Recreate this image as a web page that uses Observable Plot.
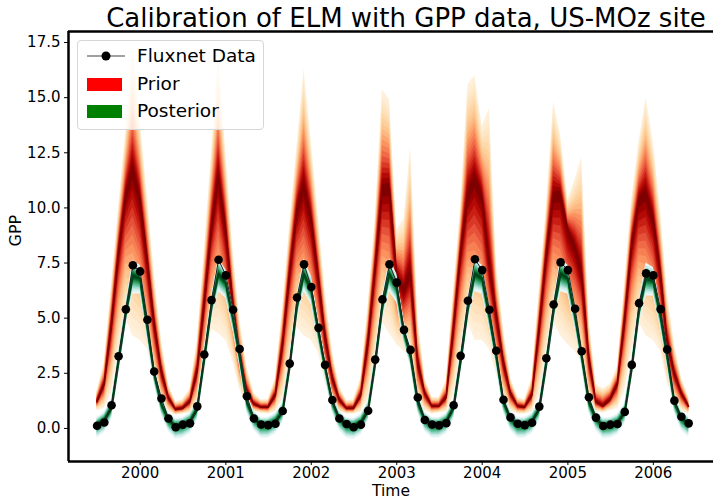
<!DOCTYPE html>
<html>
<head>
<meta charset="utf-8">
<script src="https://cdn.jsdelivr.net/npm/d3@7"></script>
<script src="https://cdn.jsdelivr.net/npm/@observablehq/plot@0.6"></script>
<style>
  html, body { margin: 0; padding: 0; background: #fff; }
  #wrap { position: relative; width: 713px; height: 500px; font-family: "DejaVu Sans", sans-serif; }
  #legend {
    position: absolute; left: 77px; top: 40px; width: 185px; height: 88px;
    border: 1px solid #d6d6d6; border-radius: 4px; background: rgba(255,255,255,0.8);
    font-size: 18.5px; color: #000;
  }
  .item { position: absolute; left: 0; height: 20px; display: flex; align-items: center; }
  .item .label { position: absolute; left: 59px; white-space: nowrap; line-height: 20px; }
  .swatch { position: absolute; left: 9px; width: 35px; height: 13px; }
</style>
</head>
<body>
<div id="wrap"></div>
<script>
// Monthly GPP, July 1999 - June 2006 (one row per Jul..Jun season)
const gpp = [
  0.12, 0.27, 1.05, 3.27, 5.40, 7.40, 7.12, 4.93, 2.58, 1.36, 0.45, 0.05,
  0.17, 0.23, 1.00, 3.35, 5.82, 7.65, 6.94, 5.38, 3.60, 1.46, 0.45, 0.18,
  0.15, 0.21, 0.79, 2.94, 5.94, 7.44, 6.41, 4.56, 2.88, 1.29, 0.45, 0.20,
  0.05, 0.17, 0.80, 3.12, 5.85, 7.44, 6.61, 4.47, 3.56, 1.40, 0.38, 0.18,
  0.14, 0.24, 1.05, 3.29, 5.79, 7.67, 7.18, 5.38, 3.52, 1.30, 0.50, 0.21,
  0.15, 0.26, 0.99, 3.18, 5.62, 7.53, 7.18, 5.43, 3.50, 1.41, 0.49, 0.11,
  0.17, 0.20, 0.75, 2.88, 5.68, 7.03, 6.94, 5.41, 3.58, 1.26, 0.53, 0.23
];

// Prior ensemble: median and outer bounds
const priorMed = [
  1.2, 2.0, 4.7, 7.9, 10.5, 11.7, 10.4, 7.6, 4.8, 2.6, 1.4, 0.85,
  0.9, 1.2, 2.6, 5.6, 9.0, 11.4, 9.0, 5.6, 3.3, 1.7, 1.1, 0.95,
  0.95, 1.5, 3.8, 7.0, 9.8, 11.0, 9.5, 6.8, 4.2, 2.3, 1.3, 0.9,
  0.9, 1.5, 3.9, 7.2, 10.8, 10.9, 7.0, 6.2, 7.0, 3.0, 1.6, 1.0,
  1.0, 1.4, 4.5, 7.9, 10.5, 11.3, 10.5, 7.4, 5.2, 3.0, 1.6, 1.0,
  0.95, 1.5, 4.5, 7.8, 10.5, 10.6, 9.0, 8.2, 7.0, 3.2, 1.2, 1.0,
  1.3, 2.0, 4.9, 8.3, 10.3, 10.65, 9.5, 7.0, 4.0, 2.5, 1.6, 1.0
];
const priorHi = [
  1.7, 3.0, 6.5, 10.0, 13.5, 17.3, 14.0, 10.5, 7.0, 4.0, 2.0, 1.2,
  1.3, 1.8, 4.0, 8.0, 12.5, 17.0, 12.5, 8.0, 5.0, 2.8, 1.6, 1.3,
  1.3, 2.3, 5.5, 9.2, 12.8, 16.3, 13.0, 9.5, 6.2, 3.5, 1.9, 1.25,
  1.3, 2.3, 5.6, 9.5, 15.35, 14.9, 9.0, 9.5, 12.8, 5.0, 2.3, 1.4,
  1.4, 2.2, 6.3, 10.0, 15.6, 16.0, 13.7, 14.5, 7.5, 4.5, 2.3, 1.4,
  1.3, 2.3, 6.3, 10.0, 14.8, 13.3, 10.35, 11.3, 12.3, 5.0, 2.0, 1.8,
  2.0, 2.8, 6.6, 10.4, 13.0, 15.0, 13.0, 9.8, 6.2, 3.8, 2.3, 1.4
];
const priorLo = [
  0.8, 0.9, 1.6, 3.5, 5.0, 4.2, 4.0, 3.6, 2.3, 1.2, 0.75, 0.6,
  0.65, 0.7, 1.0, 2.5, 4.5, 4.3, 4.0, 3.0, 1.8, 1.0, 0.75, 0.7,
  0.65, 0.75, 1.3, 3.0, 4.6, 4.2, 4.0, 3.4, 2.1, 1.1, 0.75, 0.65,
  0.65, 0.75, 1.3, 3.0, 4.8, 4.3, 3.8, 3.5, 3.2, 1.3, 0.8, 0.65,
  0.7, 0.75, 1.5, 3.2, 4.8, 4.0, 4.0, 3.6, 2.5, 1.4, 0.8, 0.65,
  0.65, 0.75, 1.5, 3.2, 4.8, 4.2, 3.8, 3.5, 3.0, 1.3, 0.75, 0.7,
  0.8, 0.9, 1.7, 3.5, 4.8, 4.2, 4.0, 3.5, 2.1, 1.2, 0.8, 0.65
];

// Posterior ensemble: median and outer bounds
const postMed = [
  0.15, 0.35, 0.9, 3.0, 5.2, 6.9, 6.8, 4.6, 2.5, 1.1, 0.4, 0.1,
  0.15, 0.3, 0.85, 3.1, 5.5, 7.0, 6.6, 5.0, 3.3, 1.2, 0.45, 0.15,
  0.15, 0.3, 0.75, 2.8, 5.5, 7.0, 6.3, 4.4, 2.8, 1.2, 0.45, 0.15,
  0.1, 0.25, 0.8, 2.9, 5.5, 7.0, 6.4, 4.4, 3.3, 1.2, 0.4, 0.15,
  0.15, 0.3, 0.9, 3.0, 5.4, 7.0, 6.8, 5.1, 3.3, 1.2, 0.45, 0.15,
  0.15, 0.3, 0.85, 2.9, 5.3, 7.0, 6.8, 5.1, 3.3, 1.2, 0.45, 0.12,
  0.15, 0.25, 0.7, 2.7, 5.3, 6.8, 6.7, 5.1, 3.3, 1.2, 0.45, 0.2
];
const postHi = [
  0.5, 0.75, 1.35, 3.5, 5.7, 7.6, 7.4, 5.1, 2.95, 1.5, 0.75, 0.45,
  0.5, 0.7, 1.3, 3.6, 6.0, 7.7, 7.2, 5.5, 3.75, 1.6, 0.8, 0.5,
  0.5, 0.7, 1.2, 3.3, 6.0, 7.7, 6.9, 4.9, 3.25, 1.6, 0.8, 0.5,
  0.45, 0.65, 1.25, 3.4, 6.0, 7.7, 7.0, 4.9, 3.75, 1.6, 0.75, 0.5,
  0.5, 0.7, 1.35, 3.5, 5.9, 7.7, 7.4, 5.6, 3.75, 1.6, 0.8, 0.5,
  0.5, 0.7, 1.3, 3.4, 5.8, 7.7, 7.4, 5.6, 3.75, 1.6, 0.8, 0.47,
  0.5, 0.65, 1.15, 3.2, 5.8, 7.5, 7.3, 5.6, 3.75, 1.6, 0.8, 0.55
];
const postLo = [
  -0.45, -0.2, 0.4, 2.5, 4.6, 6.1, 6.1, 4.0, 2.0, 0.6, -0.15, -0.5,
  -0.45, -0.25, 0.35, 2.6, 4.9, 6.2, 5.9, 4.4, 2.8, 0.7, -0.1, -0.45,
  -0.45, -0.25, 0.25, 2.3, 4.9, 6.2, 5.6, 3.8, 2.3, 0.7, -0.1, -0.45,
  -0.5, -0.3, 0.3, 2.4, 4.9, 6.2, 5.7, 3.8, 2.8, 0.7, -0.15, -0.45,
  -0.45, -0.25, 0.4, 2.5, 4.8, 6.2, 6.1, 4.5, 2.8, 0.7, -0.1, -0.45,
  -0.45, -0.25, 0.35, 2.4, 4.7, 6.2, 6.1, 4.5, 2.8, 0.7, -0.1, -0.48,
  -0.45, -0.3, 0.2, 2.2, 4.7, 6.0, 6.0, 4.5, 2.8, 0.7, -0.1, -0.4
];

const yearTicks = [2000, 2001, 2002, 2003, 2004, 2005, 2006];
const gppTicks = [0, 2.5, 5, 7.5, 10, 12.5, 15, 17.5];

const months = d3.utcMonth.range(new Date(Date.UTC(1999, 6, 1)), new Date(Date.UTC(2006, 6, 1)));
const rows = months.map((date, i) => ({
  date, gpp: gpp[i],
  pMed: priorMed[i], pHi: priorHi[i], pLo: priorLo[i],
  qMed: postMed[i], qHi: postHi[i], qLo: postLo[i]
}));

// Fan bands: nested intervals shrinking from the outer bounds toward the median
function fan(med, lo, hi, levels, scheme, c0, gamma) {
  const marks = [];
  for (let k = 0; k < levels; k++) {
    const t = 1 - k / levels;
    const color = scheme(c0 + (1 - c0) * Math.pow(k / (levels - 1), gamma));
    marks.push(Plot.areaY(rows, {
      x: "date",
      y1: d => d[med] + (d[lo] - d[med]) * t,
      y2: d => d[med] + (d[hi] - d[med]) * t,
      fill: color, clip: true
    }));
  }
  return marks;
}

const xMin = new Date(Date.UTC(1999, 2, 1));
const xMax = new Date(Date.UTC(2006, 8, 15));

const chart = Plot.plot({
  width: 713, height: 500,
  marginLeft: 68, marginRight: 0, marginTop: 31, marginBottom: 39,
  style: { fontFamily: "DejaVu Sans", fontSize: "15px", color: "#000", background: "#fff" },
  x: { type: "utc", domain: [xMin, xMax] },
  y: { domain: [-1.5, 18] },
  marks: [
    ...fan("pMed", "pLo", "pHi", 18, d3.interpolateOrRd, 0.06, 1.25),
    Plot.line(rows, { x: "date", y: "pMed", stroke: "#7f0000", strokeWidth: 1.3, clip: true }),
    ...fan("qMed", "qLo", "qHi", 10, d3.interpolateBuGn, 0.08, 1.1),
    Plot.line(rows, { x: "date", y: "qMed", stroke: "#00441b", strokeWidth: 2 }),
    Plot.line(rows, { x: "date", y: "gpp", stroke: "#222", strokeWidth: 1 }),
    Plot.dot(rows, { x: "date", y: "gpp", r: 4.3, fill: "#000" }),
    Plot.ruleX([xMin], { stroke: "#000", strokeWidth: 2.5 }),
    Plot.ruleY([-1.5, 18], { stroke: "#000", strokeWidth: 2.5 }),
    Plot.axisX({
      ticks: yearTicks.map(y => new Date(Date.UTC(y, 0, 1))),
      tickFormat: d3.utcFormat("%Y"), tickSize: 4, tickPadding: 2, label: null, fontSize: 15
    }),
    Plot.axisY({
      ticks: gppTicks, tickFormat: d => d.toFixed(1), tickSize: 4, tickPadding: 4, label: null, fontSize: 15
    }),
    Plot.text(["Time"], { frameAnchor: "bottom", lineAnchor: "middle", dy: 29.5, fontSize: 15.5 }),
    Plot.text(["GPP"], { frameAnchor: "left", dx: -53, rotate: -90, fontSize: 16 }),
    Plot.text(["Calibration of ELM with GPP data, US-MOz site"], {
      frameAnchor: "top", lineAnchor: "bottom", dy: -5, dx: 15, fontSize: 26
    })
  ]
});

const wrap = document.getElementById("wrap");
wrap.appendChild(chart);

// Legend box
const legend = document.createElement("div");
legend.id = "legend";
legend.innerHTML = `
  <div class="item" style="top:5px;width:100%">
    <svg width="50" height="20" style="position:absolute;left:6px;top:0">
      <line x1="3" y1="10" x2="41" y2="10" stroke="#444" stroke-width="1.2"/>
      <circle cx="22" cy="10" r="4.5" fill="#000"/>
    </svg>
    <span class="label">Fluxnet Data</span>
  </div>
  <div class="item" style="top:33px;width:100%">
    <div class="swatch" style="background:#ff0000"></div>
    <span class="label">Prior</span>
  </div>
  <div class="item" style="top:60px;width:100%">
    <div class="swatch" style="background:#008000"></div>
    <span class="label">Posterior</span>
  </div>`;
wrap.appendChild(legend);
</script>
</body>
</html>
